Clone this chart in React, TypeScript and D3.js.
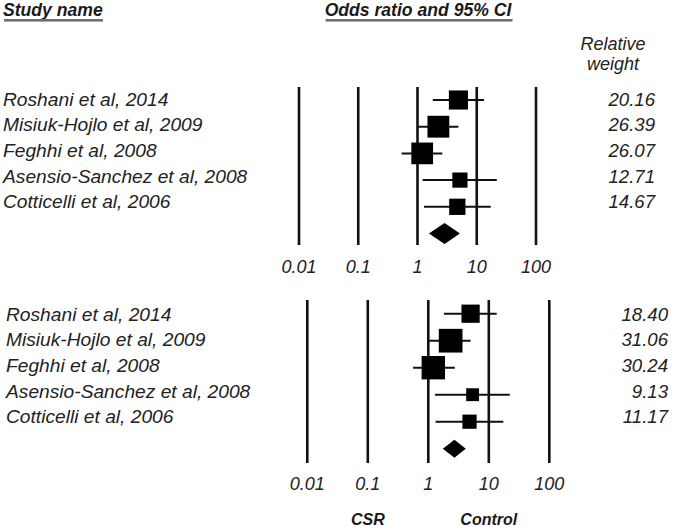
import { useEffect, useRef } from 'react';
import * as d3 from 'd3';

// Study labels (same for both panels)
const studies = [
  'Roshani et al, 2014',
  'Misiuk-Hojlo et al, 2009',
  'Feghhi et al, 2008',
  'Asensio-Sanchez et al, 2008',
  'Cotticelli et al, 2006',
];

// Upper panel: odds ratios, 95% CI, relative weights
const topOR = [4.9, 2.25, 1.2, 5.2, 4.7];
const topLower = [1.81, 1.0, 0.54, 1.22, 1.29];
const topUpper = [13.3, 4.9, 2.62, 21.8, 17.2];
const topWeight = [20.16, 26.39, 26.07, 12.71, 14.67];
const topSummary = [1.56, 2.86, 5.2];

// Lower panel
const botOR = [5.0, 2.34, 1.21, 5.4, 4.8];
const botLower = [1.81, 1.02, 0.56, 1.29, 1.32];
const botUpper = [13.5, 5.0, 2.74, 22.2, 17.4];
const botWeight = [18.4, 31.06, 30.24, 9.13, 11.17];
const botSummary = [1.74, 2.7, 4.17];

const ticks = [0.01, 0.1, 1, 10, 100];
const tickLabels = ['0.01', '0.1', '1', '10', '100'];

const FONT = '"Liberation Sans", Arial, sans-serif';

interface Panel {
  or: number[];
  lower: number[];
  upper: number[];
  weight: number[];
  summary: number[];
  xRange: [number, number];
  lineTop: number;
  lineBottom: number;
  markY0: number;
  markStep: number;
  textY0: number;
  textStep: number;
  labelX: number;
  weightX: number;
  tickY: number;
  diamondH: number;
}

export default function App() {
  const svgRef = useRef<SVGSVGElement | null>(null);

  useEffect(() => {
    if (!svgRef.current) return;
    const svg = d3.select(svgRef.current);
    svg.selectAll('*').remove();

    // headers with gray underline
    const header = (txt: string, x: number, anchor: string) => {
      const t = svg.append('text')
        .attr('x', x).attr('y', 16)
        .attr('text-anchor', anchor)
        .attr('font-family', FONT)
        .attr('font-size', 17.6)
        .attr('font-weight', 'bold')
        .attr('font-style', 'italic')
        .attr('fill', '#1a1a1a')
        .text(txt);
      const bb = (t.node() as SVGTextElement).getBBox();
      svg.append('rect')
        .attr('x', bb.x + 1).attr('y', 19)
        .attr('width', bb.width - 1).attr('height', 2.6)
        .attr('fill', '#707070');
    };
    header('Study name', 3, 'start');
    header('Odds ratio and 95% CI', 418, 'middle');

    ['Relative', 'weight'].forEach((w, i) => {
      svg.append('text')
        .attr('x', 613).attr('y', 50 + i * 19.5)
        .attr('text-anchor', 'middle')
        .attr('font-family', FONT)
        .attr('font-size', 18)
        .attr('font-style', 'italic')
        .attr('fill', '#222')
        .text(w);
    });

    const drawPanel = (p: Panel) => {
      const x = d3.scaleLog().domain([0.01, 100]).range(p.xRange);
      const idx = d3.range(studies.length);
      const yMark = (i: number) => p.markY0 + i * p.markStep;
      const yText = (i: number) => p.textY0 + i * p.textStep;
      const side = d3.scaleSqrt().domain([0, 100]).range([0, 42.5]);
      const g = svg.append('g');

      // reference lines
      g.selectAll('line.ref').data(ticks).join('line')
        .attr('class', 'ref')
        .attr('x1', d => x(d)).attr('x2', d => x(d))
        .attr('y1', p.lineTop).attr('y2', p.lineBottom)
        .attr('stroke', '#111').attr('stroke-width', 2.6);

      g.selectAll('text.tick').data(ticks).join('text')
        .attr('class', 'tick')
        .attr('x', d => x(d)).attr('y', p.tickY)
        .attr('text-anchor', 'middle')
        .attr('font-family', FONT).attr('font-size', 18)
        .attr('font-style', 'italic').attr('fill', '#222')
        .text((_, i) => tickLabels[i]);

      // CI whiskers
      g.selectAll('line.ci').data(idx).join('line')
        .attr('class', 'ci')
        .attr('x1', i => x(p.lower[i])).attr('x2', i => x(p.upper[i]))
        .attr('y1', yMark).attr('y2', yMark)
        .attr('stroke', '#111').attr('stroke-width', 2);

      // squares sized by weight
      g.selectAll('rect.pt').data(idx).join('rect')
        .attr('class', 'pt')
        .attr('x', i => x(p.or[i]) - side(p.weight[i]) / 2)
        .attr('y', i => yMark(i) - side(p.weight[i]) / 2)
        .attr('width', i => side(p.weight[i]))
        .attr('height', i => side(p.weight[i]))
        .attr('fill', '#000');

      // summary diamond
      const dy = yMark(studies.length);
      const [lo, mid, hi] = p.summary;
      g.append('path')
        .attr('d', `M${x(lo)},${dy}L${x(mid)},${dy - p.diamondH}L${x(hi)},${dy}L${x(mid)},${dy + p.diamondH}Z`)
        .attr('fill', '#000');

      // study names
      g.selectAll('text.name').data(idx).join('text')
        .attr('class', 'name')
        .attr('x', p.labelX).attr('y', yText)
        .attr('font-family', FONT).attr('font-size', 19.2)
        .attr('font-style', 'italic').attr('fill', '#222')
        .text(i => studies[i]);

      // weights
      g.selectAll('text.w').data(idx).join('text')
        .attr('class', 'w')
        .attr('x', p.weightX).attr('y', yText)
        .attr('text-anchor', 'end')
        .attr('font-family', FONT).attr('font-size', 18.6)
        .attr('font-style', 'italic').attr('fill', '#222')
        .text(i => p.weight[i].toFixed(2));

      return x;
    };

    drawPanel({
      or: topOR, lower: topLower, upper: topUpper, weight: topWeight, summary: topSummary,
      xRange: [299, 536], lineTop: 87, lineBottom: 245,
      markY0: 100, markStep: 26.7, textY0: 105.8, textStep: 25.6,
      labelX: 3, weightX: 655, tickY: 273, diamondH: 10.5,
    });

    const xb = drawPanel({
      or: botOR, lower: botLower, upper: botUpper, weight: botWeight, summary: botSummary,
      xRange: [307.3, 549.3], lineTop: 300, lineBottom: 463,
      markY0: 313.7, markStep: 27, textY0: 320.7, textStep: 25.6,
      labelX: 6, weightX: 668, tickY: 490, diamondH: 9,
    });

    // direction labels
    [['CSR', 0.1], ['Control', 10]].forEach(([t, v]) => {
      svg.append('text')
        .attr('x', xb(v as number)).attr('y', 525)
        .attr('text-anchor', 'middle')
        .attr('font-family', FONT).attr('font-size', 16)
        .attr('font-weight', 'bold').attr('font-style', 'italic')
        .attr('fill', '#1a1a1a')
        .text(t as string);
    });

    return () => { svg.selectAll('*').remove(); };
  }, []);

  return (
    <svg
      ref={svgRef}
      width={674}
      height={527}
      style={{ position: 'absolute', left: 0, top: 0, background: '#fff' }}
    />
  );
}
